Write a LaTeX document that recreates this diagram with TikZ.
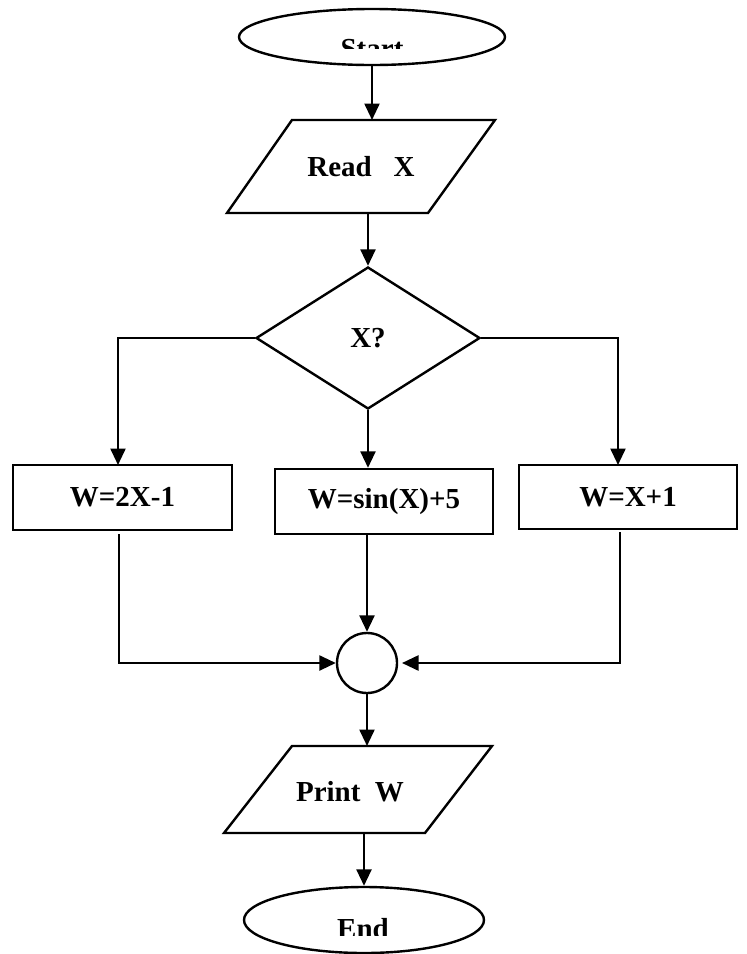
\documentclass[tikz,border=0pt]{standalone}
\usepackage{fontspec}
\setmainfont{Liberation Serif}
\usetikzlibrary{shapes.geometric,arrows.meta}
\begin{document}
\begin{tikzpicture}[x=1pt,y=-1pt,
  line width=2.4pt,
  txt/.style={font=\bfseries\fontsize{29}{34}\selectfont},
  boxnode/.style={draw,rectangle,inner sep=0pt,txt},
  arr/.style={-{Triangle[length=16.5pt,width=15pt]}}
]
\useasboundingbox (0,0) rectangle (747,954);
% Start
\node[draw,ellipse,minimum width=266pt,minimum height=56pt,inner sep=0pt] (start) at (372,37) {};
\begin{scope}
\clip (230,0) rectangle (510,48);
\node[txt,anchor=base] (starttxt) at (372,58) {Start};
\end{scope}
% Read
\draw (292,120) -- (495,120) -- (428,213) -- (227,213) -- cycle;
\node[txt] (read) at (361,167) {Read\ \ \ X};
\coordinate (readT) at (372,120);
\coordinate (readB) at (368,213);
\draw[arr] (start.south) -- (readT);
% Decision
\node[draw,diamond,minimum width=224pt,minimum height=142pt,inner sep=0pt,txt] (dec) at (368,338) {X?};
\draw[arr] (readB) -- (dec.north);
% Boxes
\node[boxnode,minimum width=219pt,minimum height=65pt] (b1) at (122.5,497.5) {W=2X-1};
\node[boxnode,minimum width=218pt,minimum height=65pt] (b2) at (384,501.5) {W=sin(X)+5};
\node[boxnode,minimum width=218pt,minimum height=64pt] (b3) at (628,497) {W=X+1};
\coordinate (b1in) at (118,465);
\coordinate (b3in) at (618,465);
\draw[arr] (dec.west) -| (b1in);
\draw[arr] (dec.east) -| (b3in);
\draw[arr] (dec.south) -- (dec.south |- b2.north);
% Join
\node[draw,circle,minimum size=60pt,inner sep=0pt] (join) at (367,663) {};
\coordinate (b1out) at (119,534);
\coordinate (b2out) at (367,534);
\coordinate (b3out) at (620,532);
\coordinate (joinR) at (402,663);
\draw[arr] (b1out) |- (join.west);
\draw[arr] (b2out) -- (join.north);
\draw[arr] (b3out) |- (joinR);
% Print
\draw (292,746) -- (492,746) -- (425,833) -- (224,833) -- cycle;
\node[txt] (print) at (350,792) {Print\ \ W};
\coordinate (printT) at (367,746);
\coordinate (printB) at (364,833);
\draw[arr] (join.south) -- (printT);
% End
\node[draw,ellipse,minimum width=240pt,minimum height=66pt,inner sep=0pt] (end) at (364,920) {};
\draw[arr] (printB) -- (end.north);
\begin{scope}
\clip (240,880) rectangle (490,935);
\node[txt,anchor=base] (endtxt) at (363,938) {End};
\end{scope}
\end{tikzpicture}
\end{document}
